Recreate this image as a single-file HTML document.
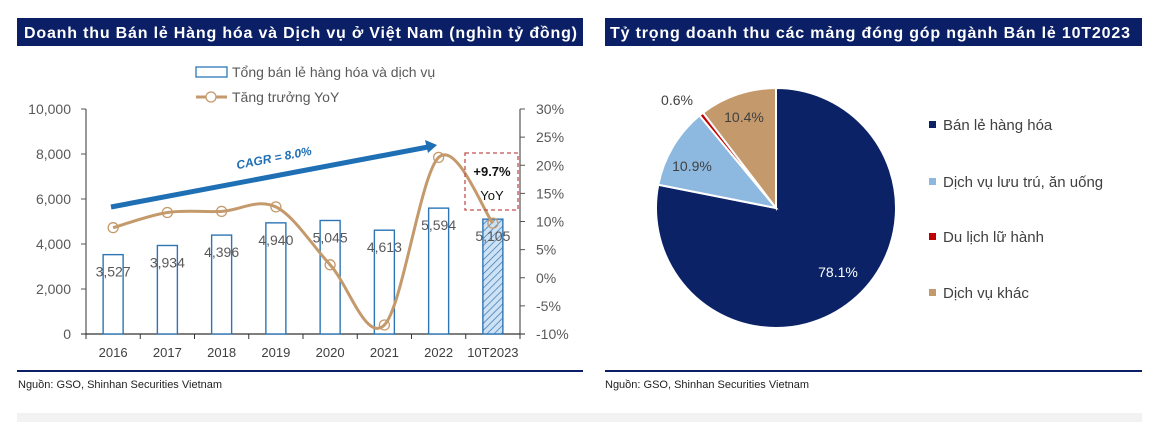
<!DOCTYPE html>
<html><head><meta charset="utf-8"><style>
html,body{margin:0;padding:0;background:#fff;}
svg{display:block;font-family:"Liberation Sans",sans-serif;}
</style></head><body>
<svg id="chart" width="1155" height="422" viewBox="0 0 1155 422">
<defs>
<pattern id="hatch" width="5" height="5" patternUnits="userSpaceOnUse" patternTransform="rotate(45)">
<rect width="5" height="5" fill="#cfe2f3"/><line x1="0" y1="0" x2="0" y2="5" stroke="#2e75b6" stroke-width="1.4"/>
</pattern>
</defs>
<rect x="17" y="18" width="566" height="28" fill="#0a1f66"/>
<text x="24" y="38" fill="#fff" font-size="16" font-weight="bold" textLength="553">Doanh thu Bán lẻ Hàng hóa và Dịch vụ ở Việt Nam (nghìn tỷ đồng)</text>
<rect x="605" y="18" width="537" height="28" fill="#0a1f66"/>
<text x="610" y="38" fill="#fff" font-size="16" font-weight="bold" textLength="520">Tỷ trọng doanh thu các mảng đóng góp ngành Bán lẻ 10T2023</text>

<g id="left"></g>
<g id="pie"></g>

<rect x="17" y="370" width="566" height="2" fill="#0a1f66"/>
<rect x="605" y="370" width="537" height="2" fill="#0a1f66"/>
<text x="18" y="388" font-size="11" fill="#222">Nguồn: GSO, Shinhan Securities Vietnam</text>
<text x="605" y="388" font-size="11" fill="#222">Nguồn: GSO, Shinhan Securities Vietnam</text>
<rect x="17" y="413" width="1125" height="9" fill="#f2f2f2"/>
</svg>
<script>
const categories=["2016","2017","2018","2019","2020","2021","2022","10T2023"];
const revenue=[3527,3934,4396,4940,5045,4613,5594,5105];
const revenueLabels=["3,527","3,934","4,396","4,940","5,045","4,613","5,594","5,105"];
const growth=[8.9,11.6,11.8,12.6,2.3,-8.4,21.4,9.7];
const leftTicks=[0,2000,4000,6000,8000,10000];
const leftTickLabels=["0","2,000","4,000","6,000","8,000","10,000"];
const rightTicks=[-10,-5,0,5,10,15,20,25,30];
const rightTickLabels=["-10%","-5%","0%","5%","10%","15%","20%","25%","30%"];
const pieLabels=["Bán lẻ hàng hóa","Dịch vụ lưu trú, ăn uống","Du lịch lữ hành","Dịch vụ khác"];
const pieValues=[78.1,10.9,0.6,10.4];
const pieValueLabels=["78.1%","10.9%","0.6%","10.4%"];

const NS="http://www.w3.org/2000/svg";
function mk(p,tag,attrs,txt){const e=document.createElementNS(NS,tag);for(const k in attrs)e.setAttribute(k,attrs[k]);if(txt!==undefined)e.textContent=txt;p.appendChild(e);return e;}
const L=document.getElementById('left');
const x0=86,x1=520,yTop=109,yBot=334;
const band=(x1-x0)/categories.length;
const xC=i=>x0+band*(i+0.5);
const yL=v=>yBot-(v/10000)*(yBot-yTop);
const yR=v=>yBot-((v+10)/40)*(yBot-yTop);
// axes
let e;
e=mk(L,'line',{x1:x0,y1:yTop,x2:x0,y2:yBot,stroke:'#555','stroke-width':1.2});

e=mk(L,'line',{x1:x1,y1:yTop,x2:x1,y2:yBot,stroke:'#555','stroke-width':1.2});

e=mk(L,'line',{x1:x0-5,y1:yBot,x2:x1+5,y2:yBot,stroke:'#333','stroke-width':1.2});

leftTicks.forEach((t,i)=>{
 mk(L,'line',{x1:x0-5,y1:yL(t),x2:x0,y2:yL(t),stroke:'#555'});
 e=mk(L,'text',{x:71,y:yL(t)+5,'text-anchor':'end','font-size':14,fill:'#595959'},leftTickLabels[i]);
 
});
rightTicks.forEach((t,i)=>{
 mk(L,'line',{x1:x1,y1:yR(t),x2:x1+5,y2:yR(t),stroke:'#555'});
 e=mk(L,'text',{x:536,y:yR(t)+5,'font-size':14,fill:'#595959'},rightTickLabels[i]);
 
});
for(let i=0;i<=categories.length;i++){mk(L,'line',{x1:x0+band*i,y1:yBot,x2:x0+band*i,y2:yBot+5,stroke:'#333'});}
categories.forEach((c,i)=>{
 e=mk(L,'text',{x:xC(i),y:357,'text-anchor':'middle','font-size':13,fill:'#404040'},c);
 
});
// bars
revenue.forEach((v,i)=>{
 const last=i===revenue.length-1;
 e=mk(L,'rect',{x:xC(i)-10,y:yL(v),width:20,height:yBot-yL(v),fill:last?'url(#hatch)':'#fff',stroke:'#2e75b6','stroke-width':1.4});
 
 e=mk(L,'text',{x:xC(i),y:yL(v)+22,'text-anchor':'middle','font-size':14,fill:'#595959'},revenueLabels[i]);
 
});
// growth smooth line
const pts=growth.map((g,i)=>[xC(i),yR(g)]);
let d='M'+pts[0][0]+','+pts[0][1];
for(let i=0;i<pts.length-1;i++){
 const p0=pts[Math.max(i-1,0)],p1=pts[i],p2=pts[i+1],p3=pts[Math.min(i+2,pts.length-1)];
 const c1=[p1[0]+(p2[0]-p0[0])/6,p1[1]+(p2[1]-p0[1])/6],c2=[p2[0]-(p3[0]-p1[0])/6,p2[1]-(p3[1]-p1[1])/6];
 d+=' C'+c1+' '+c2+' '+p2;
}
e=mk(L,'path',{d:d,fill:'none',stroke:'#c49a6c','stroke-width':3});

pts.forEach((p,i)=>{
 e=mk(L,'circle',{cx:p[0],cy:p[1],r:5,fill:'none',stroke:'#c49a6c','stroke-width':1.3});
 
});
// CAGR arrow
e=mk(L,'line',{x1:111,y1:207,x2:428,y2:147,stroke:'#1f6fb5','stroke-width':5});

mk(L,'polygon',{points:'437,145 425,140 428,153',fill:'#1f6fb5'});
e=mk(L,'text',{x:274,y:162,'text-anchor':'middle','font-size':12,'font-weight':'bold','font-style':'italic',fill:'#1f6fb5',transform:'rotate(-11 274 158)'},'CAGR = 8.0%');

// dashed box
e=mk(L,'rect',{x:465,y:153,width:53,height:57,fill:'none',stroke:'#c0504d','stroke-width':1.3,'stroke-dasharray':'4,3'});

e=mk(L,'text',{x:492,y:176,'text-anchor':'middle','font-size':13,'font-weight':'bold',fill:'#111'},'+9.7%');

e=mk(L,'text',{x:492,y:200,'text-anchor':'middle','font-size':13,fill:'#111'},'YoY');

// legend
e=mk(L,'rect',{x:196,y:67,width:31,height:10,fill:'#fff',stroke:'#2e75b6','stroke-width':1.3});

e=mk(L,'text',{x:232,y:77,'font-size':14,fill:'#595959'},'Tổng bán lẻ hàng hóa và dịch vụ');

e=mk(L,'line',{x1:196,y1:97,x2:227,y2:97,stroke:'#c49a6c','stroke-width':3});

mk(L,'circle',{cx:211,cy:97,r:5,fill:'#fff',stroke:'#c49a6c','stroke-width':1.3});
e=mk(L,'text',{x:232,y:102,'font-size':14,fill:'#595959'},'Tăng trưởng YoY');


// pie
const P=document.getElementById('pie');
const cx=776,cy=208,r=120;
const colors=['#0b2366','#8db9e0','#c00000','#c49a6c'];
const total=pieValues.reduce((a,b)=>a+b,0);
let a=0;
const labelPos=[[838,277],[692,171],[677,105],[744,122]];
const labelColors=['#fff','#404040','#404040','#404040'];
pieValues.forEach((v,i)=>{
 const a0=a,a1=a+v/total*Math.PI*2;a=a1;
 const sx=cx+r*Math.sin(a0),sy=cy-r*Math.cos(a0),ex=cx+r*Math.sin(a1),ey=cy-r*Math.cos(a1);
 e=mk(P,'path',{d:`M${cx},${cy} L${sx},${sy} A${r},${r} 0 ${a1-a0>Math.PI?1:0} 1 ${ex},${ey} Z`,fill:colors[i],stroke:'#fff','stroke-width':2});
 
 e=mk(P,'text',{x:labelPos[i][0],y:labelPos[i][1],'text-anchor':'middle','font-size':14,fill:labelColors[i]},pieValueLabels[i]);
 
 const ly=[125,182,237,293][i];
 e=mk(P,'rect',{x:929,y:ly-4,width:7,height:7,fill:colors[i]});
 
 e=mk(P,'text',{x:943,y:ly+5,'font-size':15,fill:'#404040'},pieLabels[i]);
 
});
</script>
</body></html>
